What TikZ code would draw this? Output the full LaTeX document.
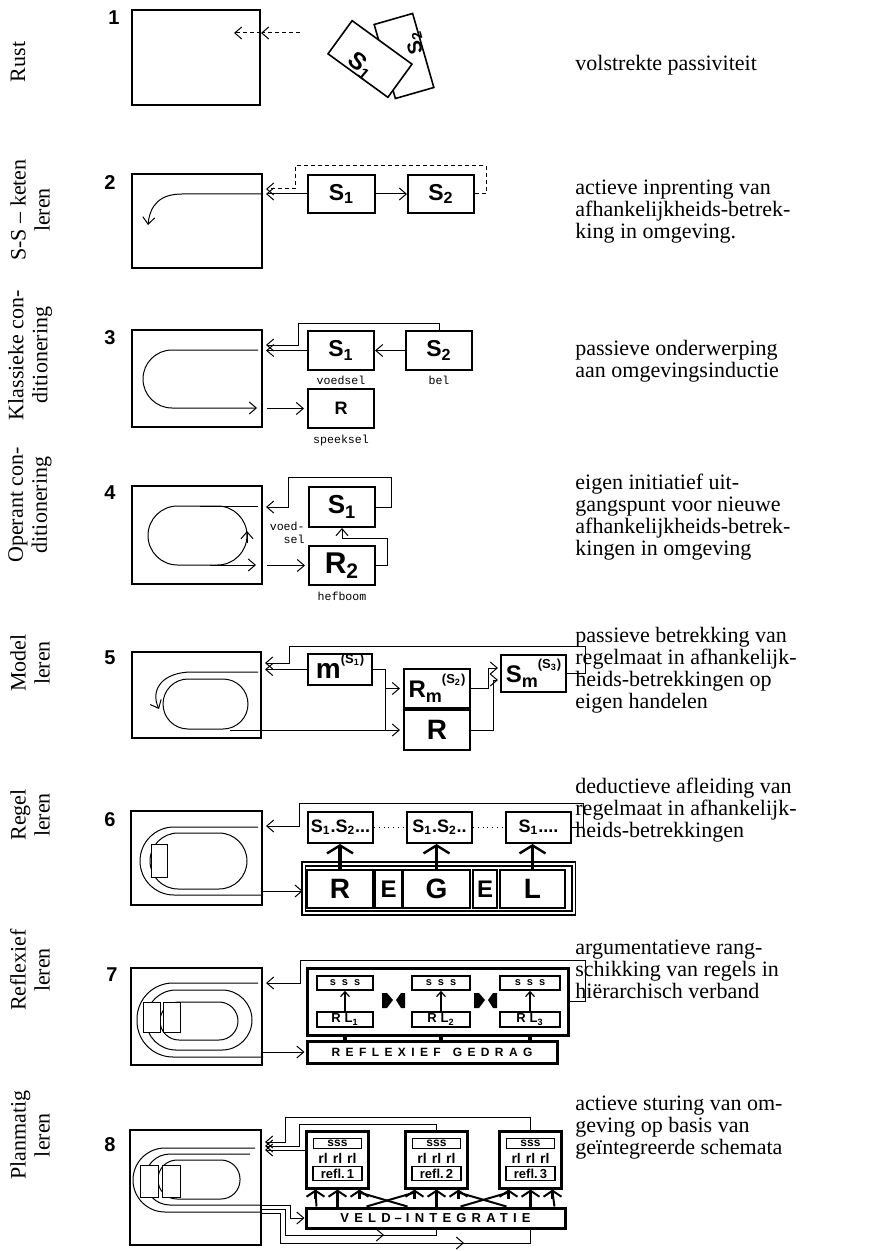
\documentclass[tikz,border=0pt]{standalone}
\usepackage{fontspec}
\setmainfont{Liberation Serif}
\newfontfamily\diagfont{Liberation Sans}
\newfontfamily\monofont{Liberation Mono}
\usetikzlibrary{arrows.meta,positioning,calc}

% letter with lowered index and raised (S_n)
\newcommand{\mlbl}[3]{#1\raisebox{-0.45ex}{\fontsize{9}{9}\selectfont #2}\raisebox{1.05ex}{\fontsize{6.5}{6.5}\selectfont(S\textsubscript{#3})}}

\tikzset{
  envbox/.style={draw, line width=1pt, inner sep=0pt},
  sbox/.style={draw, line width=1pt, inner sep=0pt, font=\diagfont\bfseries\fontsize{11.5}{11.5}\selectfont},
  minibox/.style={draw, line width=0.8pt, inner sep=0pt, font=\diagfont\bfseries\fontsize{6}{6}\selectfont},
  heavybox/.style={draw, line width=1.5pt, inner sep=0pt},
  conn/.style={line width=0.5pt},
  arr/.style={line width=0.5pt, -{Straight Barb[length=3.5pt,width=6pt]}},
  smallarr/.style={line width=0.6pt, -{Straight Barb[length=2.5pt,width=4.5pt]}},
  dashconn/.style={dash pattern=on 2pt off 1.5pt},
  track/.style={line width=0.5pt},
  bigup/.style={line width=1.6pt, -{Straight Barb[length=4pt,width=13pt,line width=1.2pt]}},
  chev/.style={line width=1.1pt, -{Straight Barb[length=3pt,width=9pt,line width=1pt]}},
  sideleg/.style={rotate=90, align=center, font=\fontsize{11}{12}\selectfont, inner sep=0pt},
  descr/.style={anchor=west, align=left, font=\fontsize{11}{11}\selectfont, inner sep=0pt},
  rownum/.style={font=\diagfont\bfseries\fontsize{10}{10}\selectfont},
  monolbl/.style={font=\monofont\fontsize{5.8}{6.5}\selectfont, inner sep=0pt},
}

\begin{document}
\begin{tikzpicture}[x=0.5pt, y=-0.5pt]
\useasboundingbox (0,0) rectangle (879,1251);

% side legends
\node[sideleg] (side1) at (18,62) {Rust};
\node[sideleg] (side2) at (30,210) {S-S -- keten\\leren};
\node[sideleg] (side3) at (30,355) {Klassieke con-\\ditionering};
\node[sideleg] (side4) at (30,505) {Operant con-\\ditionering};
\node[sideleg] (side5) at (30,663) {Model\\leren};
\node[sideleg] (side6) at (30,815) {Regel\\leren};
\node[sideleg] (side7) at (30,970) {Reflexief\\leren};
\node[sideleg] (side8) at (30,1135) {Planmatig\\leren};

% descriptions
\node[descr] (desc1) at (575,65) {volstrekte passiviteit};
\node[descr] (desc2) at (575,211.5) {actieve inprenting van\\afhankelijkheids-betrek-\\king in omgeving.};
\node[descr] (desc3) at (575,361) {passieve onderwerping\\aan omgevingsinductie};
\node[descr] (desc4) at (575,517) {eigen initiatief uit-\\gangspunt voor nieuwe\\afhankelijkheids-betrek-\\kingen in omgeving};
\node[descr] (desc5) at (575,670) {passieve betrekking van\\regelmaat in afhankelijk-\\heids-betrekkingen op\\eigen handelen};
\node[descr] (desc6) at (575,810) {deductieve afleiding van\\regelmaat in afhankelijk-\\heids-betrekkingen};
\node[descr] (desc7) at (575,969) {argumentatieve rang-\\schikking van regels in\\hiërarchisch verband};
\node[descr] (desc8) at (575,1128) {actieve sturing van om-\\geving op basis van\\geïntegreerde schemata};

% 1: rust
\node[rownum] (num1) at (114,18) {1};
\node[envbox, minimum width=64pt, minimum height=47.5pt] (env1) at (196,57.5) {};
\coordinate (in1) at (300,33);
\draw[arr, dashconn] (in1) -- (env1.east |- in1);
\draw[arr, dashconn] (env1.east |- in1) -- ++(-27,0);
\node[draw, line width=0.8pt, fill=white, minimum width=20pt, minimum height=38.5pt, rotate=16] (card2) at (404,56) {};
\node[rotate=105, inner sep=0pt, font=\diagfont\bfseries\fontsize{10}{10}\selectfont] (card2txt) at (415,43) {S\textsubscript{2}};
\node[draw, line width=0.8pt, fill=white, minimum width=37pt, minimum height=20.5pt, rotate=-36] (card1) at (370,59) {};
\node[rotate=-40, inner sep=0pt, font=\diagfont\bfseries\fontsize{12}{12}\selectfont] (card1txt) at (361,66) {S\textsubscript{1}};

% 2: S-S keten
\node[rownum] (num2) at (110,183) {2};
\node[envbox, minimum width=65pt, minimum height=47pt] (env2) at (197,221) {};
\node[sbox, minimum width=33.5pt, minimum height=19pt] (s21) at (341.5,194) {S\textsubscript{1}};
\node[sbox, minimum width=33pt, minimum height=19pt, right=15.5pt of s21] (s22) {S\textsubscript{2}};
\draw[arr] (s21) -- (s22);
\draw[arr, shorten >=1.5pt] (s21.west) -- (env2.east |- s21.west);
\draw[arr, dashconn, shorten >=1.5pt] (s22.east) -| (486,166) -| (295,189) -- (env2.east |- 0,189);
\draw[arr] (env2.east |- 0,194) -- (182,194) .. controls (160,194) and (150,205) .. (148,225);

% 3: klassieke conditionering
\node[rownum] (num3) at (110,338) {3};
\node[envbox, minimum width=65pt, minimum height=48.5pt] (env3) at (197,378.5) {};
\node[sbox, minimum width=33pt, minimum height=19.5pt] (s31) at (341,350.5) {S\textsubscript{1}};
\node[sbox, minimum width=33pt, minimum height=19.5pt] (s32) at (439,350.5) {S\textsubscript{2}};
\node[sbox, minimum width=33pt, minimum height=19.5pt, font=\diagfont\bfseries\fontsize{9}{9}\selectfont] (r3) at (341,408.5) {R};
\node[monolbl, below=2.5pt of s31] (lab31) {voedsel};
\node[monolbl, below=2.5pt of s32] (lab32) {bel};
\node[monolbl, below=3pt of r3] (lab33) {speeksel};
\draw[arr, rounded corners=14.5pt] (258,350) -- (143,350) -- (143,408) -- (257,408);
\draw[arr] (s32.west) -- (s31.east);
\draw[arr, shorten >=1.5pt] (s31.west) -- (env3.east |- s31.west);
\draw[arr, shorten >=1.5pt] (s32.north) |- (298,324) |- (env3.east |- 0,345);
\draw[arr, shorten <=2pt, shorten >=1.5pt] (env3.east |- r3.west) -- (r3.west);

% 4: operant conditionering
\node[rownum] (num4) at (110,493) {4};
\node[envbox, minimum width=65pt, minimum height=49pt] (env4) at (197,535) {};
\node[sbox, minimum width=33pt, minimum height=20pt, font=\diagfont\bfseries\fontsize{13}{13}\selectfont] (s41) at (342,507) {S\textsubscript{1}};
\node[sbox, minimum width=33pt, minimum height=19.5pt, font=\diagfont\bfseries\fontsize{15}{15}\selectfont] (r42) at (342,565.5) {R\textsubscript{2}};
\node[monolbl, align=right, anchor=east] (lab41) at (305,533) {voed-\\sel};
\node[monolbl, below=3pt of r42] (lab42) {hefboom};
\draw[track, rounded corners=14.75pt] (148,506) rectangle (247,565);
\draw[track] (258,506) -- (200,506);
\draw[arr] (210,565) -- (256,565);
\draw[arr] (247,543) -- (247,531);
\draw[arr, shorten >=1.5pt] (s41.east) -| (391,477) -| (288,507) -- (env4.east |- 0,507);
\draw[arr] (r42.east) -| (387,538) -| (s41.south);
\draw[arr, shorten <=2pt, shorten >=1.5pt] (env4.east |- r42.west) -- (r42.west);

% 5: model leren
\node[rownum] (num5) at (110,658) {5};
\node[envbox, minimum width=64.5pt, minimum height=43pt] (env5) at (196.5,695) {};
\node[sbox, minimum width=32pt, minimum height=15.5pt, font=\diagfont\bfseries\fontsize{14}{14}\selectfont] (m5) at (340,669.5) {\mlbl{m}{}{1}};
\node[sbox, minimum width=33pt, minimum height=19.5pt, font=\diagfont\bfseries\fontsize{12}{12}\selectfont] (rm5) at (437,688.5) {\mlbl{R}{m}{2}};
\node[sbox, minimum width=33pt, minimum height=20pt, font=\diagfont\bfseries\fontsize{14}{14}\selectfont] (r5) at (437,730) {R};
\node[sbox, minimum width=32.5pt, minimum height=18.5pt, font=\diagfont\bfseries\fontsize{12}{12}\selectfont] (sm5) at (533.5,673.5) {\mlbl{S}{m}{3}};
\draw[arr] (258,672) -- (192,672) .. controls (162,672) and (150,690) .. (159,709);
\draw[track, rounded corners=12.5pt] (163,679) rectangle (248,729);
\draw[arr, shorten >=1.5pt] (230,730) -- (r5.west);
\draw[arr, shorten >=1.5pt] (m5.west) -- (env5.east |- m5.west);
\draw[arr, shorten >=1.5pt] (m5.east) -| (385,688.5) -- (rm5.west);
\draw[conn] (385,688.5) -- (385,730);
\draw[arr, shorten >=1pt] (rm5.east) -| (488,668) -- (sm5.west |- 0,668);
\draw[arr, shorten >=1pt] (r5.east) -| (493,680) -- (sm5.west |- 0,680);
\draw[arr, shorten >=1.5pt] (sm5.east) -| (585,646) -| (289,663) -- (env5.east |- 0,663);

% 6: regel leren
\node[rownum] (num6) at (110,820) {6};
\node[envbox, minimum width=65.5pt, minimum height=47pt] (env6) at (196.5,858) {};
\draw[track, rounded corners=17pt] (258,827) -- (140,827) -- (140,895) -- (env6.east |- 0,895);
\draw[track, rounded corners=14pt] (150,833) rectangle (247,889);
\draw[track, fill=white] (151,844) rectangle (167,877);
\node[sbox, minimum width=32.5pt, minimum height=15.5pt, font=\diagfont\bfseries\fontsize{9}{9}\selectfont] (ss61) at (340.5,827.5) {S\textsubscript{1}.S\textsubscript{2}...};
\node[sbox, minimum width=32.5pt, minimum height=15.5pt, font=\diagfont\bfseries\fontsize{9}{9}\selectfont, right=16pt of ss61] (ss62) {S\textsubscript{1}.S\textsubscript{2}..};
\node[sbox, minimum width=32.5pt, minimum height=15.5pt, font=\diagfont\bfseries\fontsize{9}{9}\selectfont, right=16pt of ss62] (ss63) {S\textsubscript{1}....};
\draw[dotted] (ss61.east) -- (ss62.west);
\draw[dotted] (ss62.east) -- (ss63.west);
\node[draw, line width=0.8pt, double, double distance=1pt, inner sep=0pt, minimum width=135pt, minimum height=24.5pt] (regel) at (438.5,888.5) {};
\node[sbox, minimum width=33pt, minimum height=19pt, font=\diagfont\bfseries\fontsize{14}{14}\selectfont] (lR) at (340,889) {R};
\node[sbox, minimum width=13.5pt, minimum height=19pt, font=\diagfont\bfseries\fontsize{12}{12}\selectfont] (lE1) at (388.5,889) {E};
\node[sbox, minimum width=33.5pt, minimum height=19pt, font=\diagfont\bfseries\fontsize{14}{14}\selectfont] (lG) at (436.5,889) {G};
\node[sbox, minimum width=12pt, minimum height=19pt, font=\diagfont\bfseries\fontsize{12}{12}\selectfont] (lE2) at (485,889) {E};
\node[sbox, minimum width=32.5pt, minimum height=19pt, font=\diagfont\bfseries\fontsize{14}{14}\selectfont] (lL) at (532.5,889) {L};
\draw[bigup] (lR.north) -- (lR.north |- ss61.south);
\draw[bigup] (lG.north) -- (lG.north |- ss62.south);
\draw[bigup] (lL.north) -- (lL.north |- ss63.south);
\draw[arr, shorten >=1.5pt] (ss63.east) -| (583,803) -| (299,826) -- (env6.east |- 0,826);
\draw[arr] (env6.east |- 0,891) -- (regel.west |- 0,891);

% 7: reflexief leren
\node[rownum] (num7) at (112,975) {7};
\node[envbox, minimum width=65.5pt, minimum height=48.5pt] (env7) at (196.5,1016.5) {};
\draw[track, rounded corners=18pt] (258,983) -- (137,983) -- (137,1057) -- (env7.east |- 0,1057);
\draw[track, rounded corners=15pt] (146,990) rectangle (252,1050);
\draw[track, rounded corners=9.5pt] (160,1002) rectangle (238,1040);
\draw[track, fill=white] (143,1002) rectangle (160,1032);
\draw[track, fill=white] (163,1002) rectangle (180,1032);
\node[heavybox, minimum width=130.5pt, minimum height=33.5pt] (frame7) at (437.5,1001.5) {};
\node[minibox, minimum width=28pt, minimum height=7pt, font=\diagfont\bfseries\fontsize{5.5}{5.5}\selectfont] (sss71) at (345,983) {s\hspace{3pt}s\hspace{3pt}s};
\node[minibox, minimum width=29pt, minimum height=7pt, font=\diagfont\bfseries\fontsize{5.5}{5.5}\selectfont] (sss72) at (441,983) {s\hspace{3pt}s\hspace{3pt}s};
\node[minibox, minimum width=30pt, minimum height=7pt, font=\diagfont\bfseries\fontsize{5.5}{5.5}\selectfont] (sss73) at (530,983) {s\hspace{3pt}s\hspace{3pt}s};
\node[minibox, minimum width=28pt, minimum height=7.5pt, font=\diagfont\bfseries\fontsize{6.5}{6.5}\selectfont] (rl71) at (345,1019.5) {R\hspace{2pt}L\textsubscript{1}};
\node[minibox, minimum width=29pt, minimum height=7.5pt, font=\diagfont\bfseries\fontsize{6.5}{6.5}\selectfont] (rl72) at (441,1019.5) {R\hspace{2pt}L\textsubscript{2}};
\node[minibox, minimum width=30pt, minimum height=7.5pt, font=\diagfont\bfseries\fontsize{6.5}{6.5}\selectfont] (rl73) at (530,1019.5) {R\hspace{2pt}L\textsubscript{3}};
\draw[smallarr] (rl71) -- (sss71);
\draw[smallarr] (rl72) -- (sss72);
\draw[smallarr] (rl73) -- (sss73);
\fill (382,993) -- (387,993) -- (393,1000) -- (387,1008) -- (382,1008) -- cycle;
\fill (405,993) -- (401,993) -- (396,1000) -- (401,1008) -- (405,1008) -- cycle;
\fill (474,993) -- (479,993) -- (485,1000) -- (479,1008) -- (474,1008) -- cycle;
\fill (497,993) -- (493,993) -- (488,1000) -- (493,1008) -- (497,1008) -- cycle;
\node[heavybox, minimum width=125pt, minimum height=11pt, font=\diagfont\bfseries\fontsize{6}{6}\selectfont] (refl7) at (432,1052) {\addfontfeature{LetterSpace=45}REFLEXIEF\hspace{6pt}GEDRAG};
\draw[line width=2pt] (frame7.south -| rl71) -- (refl7.north -| rl71);
\draw[line width=2pt] (frame7.south -| rl72) -- (refl7.north -| rl72);
\draw[line width=2pt] (frame7.south -| rl73) -- (refl7.north -| rl73);
\draw[arr, shorten >=1.5pt] (frame7.east) -| (585,960) -| (300,983) -- (env7.east |- 0,983);
\draw[arr, shorten >=0.5pt] (env7.east |- refl7.west) -- (refl7.west);

% 8: planmatig leren
\node[rownum] (num8) at (110,1145) {8};
\node[envbox, minimum width=65.5pt, minimum height=57.5pt] (env8) at (195.5,1187.5) {};
\draw[track, rounded corners=16pt] (255,1148) -- (133,1148) -- (133,1212) -- (env8.east |- 0,1212);
\draw[track, rounded corners=12.5pt] (250,1154) -- (145,1154) -- (145,1205) -- (env8.east |- 0,1205);
\draw[track, rounded corners=9.5pt] (158,1160) rectangle (240,1199);
\draw[track, fill=white] (140,1165) rectangle (158,1197);
\draw[track, fill=white] (162,1165) rectangle (180,1197);
\node[heavybox, minimum width=31pt, minimum height=28.5pt] (u81) at (337.5,1159.5) {};
\node[heavybox, minimum width=31pt, minimum height=28.5pt] (u82) at (436.5,1159.5) {};
\node[heavybox, minimum width=31pt, minimum height=28.5pt] (u83) at (530.5,1159.5) {};
\foreach \u/\k in {u81/1, u82/2, u83/3}{
  \node[minibox, minimum width=24pt, minimum height=5pt] (sss8\k) at ($(\u.north)+(0,14)$) {sss};
  \node[font=\diagfont\bfseries\fontsize{7}{7}\selectfont, inner sep=0pt] (rl8\k) at ($(\u.north)+(0,29)$) {rl\hspace{2.5pt}rl\hspace{2.5pt}rl};
  \node[minibox, minimum width=24.5pt, minimum height=7pt, font=\diagfont\bfseries\fontsize{6.5}{6.5}\selectfont] (refl8\k) at ($(\u.north)+(0,44)$) {refl.\,\k};
}
\node[heavybox, minimum width=129.5pt, minimum height=10pt, font=\diagfont\bfseries\fontsize{6.5}{6.5}\selectfont] (veld) at (435.5,1218) {\addfontfeature{LetterSpace=40}VELD\hspace{2pt}–\hspace{2pt}INTEGRATIE};
\draw[chev] (veld.north -| u81.south) -- (u81.south);
\draw[chev] (veld.north -| u82.south) -- (u82.south);
\draw[chev] (veld.north -| u83.south) -- (u83.south);
% diagonal feeds crossing between units
\draw[line width=1pt] ($(u81.south)+(-22,3)$) -- ($(veld.north west)+(12,0)$);
\draw[line width=1pt] ($(u81.south)+(22,3)$) -- ($(u81.south |- veld.north)+(70,0)$);
\draw[line width=1pt] ($(u82.south)+(-22,3)$) -- ($(u82.south |- veld.north)+(-70,0)$);
\draw[line width=1pt] ($(u82.south)+(22,3)$) -- ($(u82.south |- veld.north)+(70,0)$);
\draw[line width=1pt] ($(u83.south)+(-22,3)$) -- ($(u83.south |- veld.north)+(-70,0)$);
\draw[line width=1pt] ($(u83.south)+(22,3)$) -- ($(veld.north east)+(-12,0)$);
\foreach \u in {u81,u82,u83}{
  \draw[chev] ($(\u.south)+(-22,9)$) -- ($(\u.south)+(-22,0)$);
  \draw[chev] ($(\u.south)+(22,9)$) -- ($(\u.south)+(22,0)$);
}
\draw[arr, shorten >=1.5pt] (u81.west |- 0,1150) -- (env8.east |- 0,1150);
\draw[arr, shorten >=1.5pt] (u82.north) |- (299,1124) |- (env8.east |- 0,1146);
\draw[arr, shorten >=1.5pt] (u83.north) |- (285,1117) |- (env8.east |- 0,1142);
\draw[arr] (env8.east |- 0,1205) -| (290,1218) -- (veld.west);
\draw[conn] (env8.east |- 0,1209) -| (285,1235) -| (veld.south -| u82.south);
\draw[conn] (env8.east |- 0,1213) -| (280,1243) -| (veld.south -| u83.south);
\draw[arr] (370,1235) -- (384,1235);
\draw[arr] (450,1243) -- (464,1243);

\end{tikzpicture}
\end{document}
